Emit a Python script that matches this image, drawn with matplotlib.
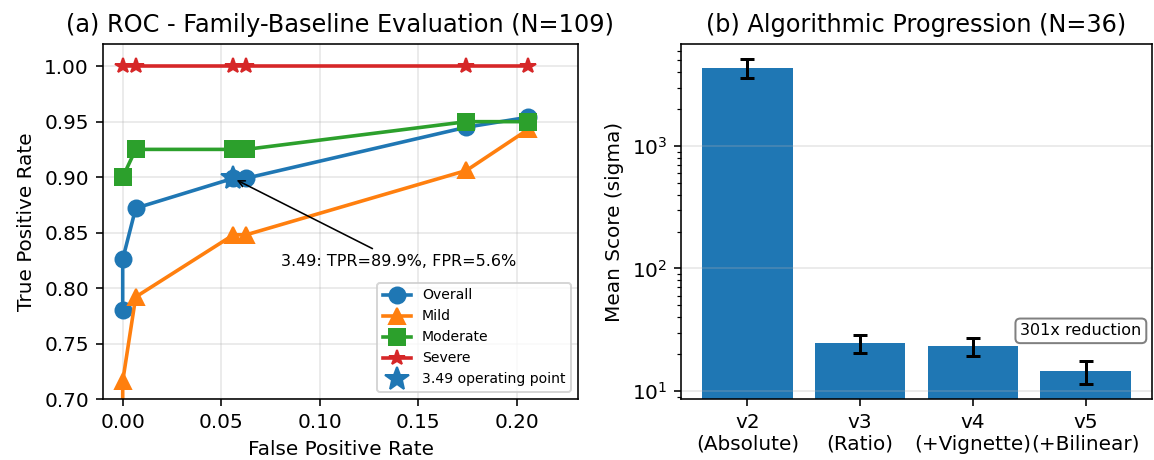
import numpy as np
import matplotlib
matplotlib.use("Agg")
import matplotlib.pyplot as plt

# === DATA ===
# ROC points (FPR, TPR) per severity group
OVERALL_FPR = [0.0, 0.0, 0.0066, 0.0562, 0.0626, 0.1744, 0.2057]
OVERALL_TPR = [0.780, 0.826, 0.872, 0.899, 0.899, 0.945, 0.954]
MILD_FPR = [0.0, 0.0, 0.0066, 0.0562, 0.0626, 0.1744, 0.2057]
MILD_TPR = [0.660, 0.716, 0.792, 0.848, 0.848, 0.906, 0.943]
MODERATE_FPR = [0.0, 0.0066, 0.0562, 0.0626, 0.1744, 0.2057]
MODERATE_TPR = [0.900, 0.925, 0.925, 0.925, 0.950, 0.950]
SEVERE_FPR = [0.0, 0.0066, 0.0562, 0.0626, 0.1744, 0.2057]
SEVERE_TPR = [1.0, 1.0, 1.0, 1.0, 1.0, 1.0]
OP_FPR = 0.056
OP_TPR = 0.899

# algorithm versions
VERSIONS = ["v2\n(Absolute)", "v3\n(Ratio)", "v4\n(+Vignette)", "v5\n(+Bilinear)"]
MEAN_SCORE = [4360, 24.5, 23.3, 14.5]
SCORE_ERR = [740, 4.1, 4.0, 3.0]


def plot_roc(ax):
    ax.plot(OVERALL_FPR, OVERALL_TPR, "-o", color="C0", lw=1.8, ms=8, label="Overall")
    ax.plot(MILD_FPR, MILD_TPR, "-^", color="C1", lw=1.8, ms=8, label="Mild")
    ax.plot(MODERATE_FPR, MODERATE_TPR, "-s", color="C2", lw=1.8, ms=8, label="Moderate")
    ax.plot(SEVERE_FPR, SEVERE_TPR, "-*", color="C3", lw=1.8, ms=8, label="Severe")
    ax.plot([OP_FPR], [OP_TPR], "*", color="C0", ms=12.5, label="3.49 operating point")
    ax.annotate(f"3.49: TPR={OP_TPR*100:.1f}%, FPR={OP_FPR*100:.1f}%",
                xy=(OP_FPR, OP_TPR), xytext=(0.0804, 0.8195), fontsize=8,
                arrowprops=dict(arrowstyle="->", color="black", lw=0.8))
    ax.set_xlim(-0.01, 0.231)
    ax.set_ylim(0.70, 1.02)
    ax.set_xticks(np.arange(0, 0.21, 0.05))
    ax.set_yticks(np.arange(0.70, 1.001, 0.05))
    ax.set_xlabel("False Positive Rate", fontsize=10)
    ax.set_ylabel("True Positive Rate", fontsize=10)
    ax.set_title("(a) ROC - Family-Baseline Evaluation (N=109)", fontsize=12)
    ax.grid(True, alpha=0.3)
    ax.legend(loc="lower right", fontsize=7)


def plot_progression(ax):
    x = np.arange(len(VERSIONS))
    ax.bar(x, MEAN_SCORE, width=0.8, color="C0", yerr=SCORE_ERR,
           capsize=3.5, error_kw=dict(elinewidth=1.5, capthick=1.5, ecolor="black"))
    ax.set_yscale("log")
    ax.set_ylim(8.6, 6800)
    ax.set_xticks(x)
    ax.set_xticklabels(VERSIONS)
    ax.set_ylabel("Mean Score (sigma)", fontsize=10)
    ax.set_title("(b) Algorithmic Progression (N=36)", fontsize=12)
    ax.grid(True, axis="y", alpha=0.3)
    ratio = MEAN_SCORE[0] / MEAN_SCORE[-1]
    ax.text(0.849, 0.192, f"{ratio:.0f}x reduction", transform=ax.transAxes,
            ha="center", va="center", fontsize=8,
            bbox=dict(boxstyle="round,pad=0.3", facecolor="white", edgecolor="gray"))


def main():
    fig = plt.figure(figsize=(1154 / 144, 460 / 144), dpi=144)
    ax1 = fig.add_axes([103 / 1154, 1 - 399 / 460, 475 / 1154, 355 / 460])
    ax2 = fig.add_axes([681 / 1154, 1 - 399 / 460, 471 / 1154, 355 / 460])
    plot_roc(ax1)
    plot_progression(ax2)
    fig.savefig("out.png", dpi=144)


if __name__ == "__main__":
    main()
